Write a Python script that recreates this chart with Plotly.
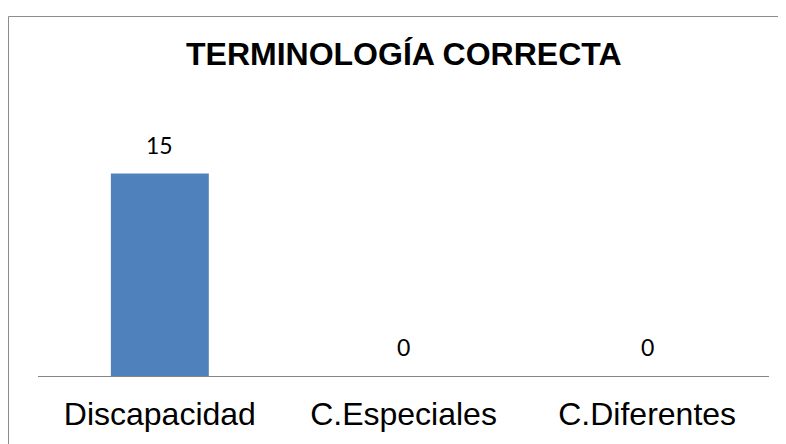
import plotly.graph_objects as go

categories = ["Discapacidad", "C.Especiales", "C.Diferentes"]
values = [15, 0, 0]
title_text = "TERMINOLOGÍA CORRECTA"

# page body has an 8px default margin; figure sized to fit the window
OFF = 8
W, H = 786 - OFF, 444 - OFF
L, R, T, B = 38 - OFF, 786 - 769, 160 - OFF, 444 - 379
pw, ph = W - L - R, H - T - B

def px_x(p):
    return (p - OFF - L) / pw

def px_y(p):
    return (H - B - (p - OFF)) / ph

fig = go.Figure()
fig.add_trace(go.Bar(
    x=categories, y=values,
    marker=dict(color="#4F81BD", line=dict(width=0)),
    hoverinfo="skip",
))

for c, v in zip(categories, values):
    fig.add_annotation(
        x=c, y=v, xref="x", yref="y", text=str(v), showarrow=False,
        yanchor="bottom", yshift=13,
        font=dict(family="Lato", size=23, color="#000000"),
    )

fig.add_annotation(
    x=px_x(404), y=px_y(52.5), xref="paper", yref="paper",
    text="<b>" + title_text + "</b>", showarrow=False,
    xanchor="center", yanchor="middle",
    font=dict(family="Liberation Sans, Arial", size=32, color="#000000"),
)

fig.add_shape(
    type="rect", xref="paper", yref="paper",
    x0=px_x(8.5), x1=px_x(820), y0=px_y(14.5), y1=px_y(480),
    line=dict(color="#8C8C8C", width=1), fillcolor="rgba(0,0,0,0)",
    layer="below",
)

fig.update_layout(
    width=W, height=H,
    margin=dict(l=L, r=R, t=T, b=B, pad=0),
    paper_bgcolor="#FFFFFF", plot_bgcolor="#FFFFFF",
    bargap=0.598, showlegend=False,
    xaxis=dict(
        showline=True, linecolor="#868686", linewidth=1,
        showgrid=False, ticks="", zeroline=False,
        ticklabelstandoff=10,
        tickfont=dict(family="Liberation Sans, Arial", size=32, color="#000000"),
    ),
    yaxis=dict(
        range=[0, 16], visible=False, showgrid=False, zeroline=False,
    ),
)

fig.write_html("out.html")
